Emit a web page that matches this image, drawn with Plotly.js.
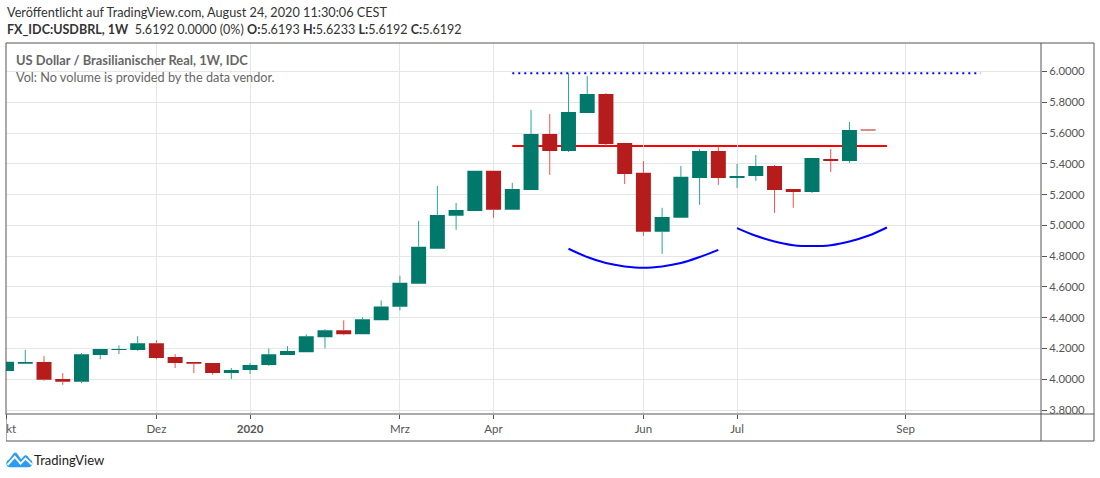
<!DOCTYPE html>
<html>
<head>
<meta charset="utf-8">
<script src="https://cdn.plot.ly/plotly-3.0.1.min.js"></script>
<style>
html,body{margin:0;padding:0;background:#fff;overflow:hidden}
#chart{position:absolute;left:0;top:0;width:1100px;height:478px}
#clip{position:absolute;left:0;top:415px;width:6px;height:26px;background:#fff}
#logo{position:absolute;left:6px;top:451px;width:27px;height:17px}
</style>
</head>
<body>
<div id="chart"></div>
<div id="clip"></div>
<svg id="logo" viewBox="0 0 27 17"><path fill="#2b9cf2" d="M0.3 12.5 C0.3 10.5 1.5 9.5 2.8 8.8 L7.6 2.6 C8.6 1.2 10 1.2 11 2.6 L15.2 8.2 L18 5 C19 3.9 20.6 4 21.6 5.2 L24 8.2 C25.5 9 26.6 10.6 26.4 12.5 C26.2 14.8 24.4 16.2 22.4 16.2 L4 16.2 C1.9 16.2 0.3 14.6 0.3 12.5 Z"/><path fill="none" stroke="#fff" stroke-width="2" d="M1.5 14 L8.8 5.8 L14.5 12.6 L19.5 7.6 L25.8 13.5"/></svg>
<script>
const dates = ["2019-10-07","2019-10-14","2019-10-21","2019-10-28","2019-11-04","2019-11-11","2019-11-18","2019-11-25","2019-12-02","2019-12-09","2019-12-16","2019-12-23","2019-12-30","2020-01-06","2020-01-13","2020-01-20","2020-01-27","2020-02-03","2020-02-10","2020-02-17","2020-02-24","2020-03-02","2020-03-09","2020-03-16","2020-03-23","2020-03-30","2020-04-06","2020-04-13","2020-04-20","2020-04-27","2020-05-04","2020-05-11","2020-05-18","2020-05-25","2020-06-01","2020-06-08","2020-06-15","2020-06-22","2020-06-29","2020-07-06","2020-07-13","2020-07-20","2020-07-27","2020-08-03","2020-08-10","2020-08-17","2020-08-24"];
const opens = [4.053,4.100,4.112,4.002,3.983,4.157,4.190,4.190,4.234,4.144,4.112,4.105,4.041,4.060,4.092,4.157,4.176,4.273,4.318,4.293,4.383,4.471,4.621,4.848,5.062,5.094,5.354,5.101,5.230,5.594,5.483,5.730,5.853,5.535,5.341,4.958,5.049,5.308,5.483,5.308,5.321,5.386,5.237,5.217,5.431,5.418,5.6233];
const closes = [4.113,4.112,3.996,3.983,4.163,4.196,4.196,4.234,4.138,4.105,4.100,4.041,4.060,4.092,4.163,4.183,4.280,4.318,4.292,4.389,4.473,4.627,4.861,5.068,5.100,5.354,5.101,5.237,5.594,5.483,5.736,5.853,5.529,5.334,4.958,5.055,5.315,5.483,5.308,5.321,5.386,5.230,5.217,5.438,5.418,5.619,5.6165];
const highs = [4.113,4.190,4.150,4.040,4.170,4.196,4.220,4.280,4.254,4.163,4.112,4.105,4.073,4.105,4.200,4.215,4.292,4.325,4.383,4.402,4.512,4.673,5.029,5.256,5.146,5.354,5.354,5.276,5.749,5.723,5.989,5.970,5.859,5.535,5.418,5.114,5.386,5.496,5.511,5.399,5.457,5.392,5.237,5.438,5.496,5.671,5.6233];
const lows = [4.053,4.100,3.990,3.963,3.974,4.130,4.163,4.185,4.130,4.073,4.040,4.030,4.002,4.034,4.086,4.157,4.176,4.200,4.286,4.293,4.383,4.447,4.621,4.848,4.971,5.094,5.049,5.101,5.230,5.328,5.477,5.730,5.516,5.269,4.932,4.815,5.049,5.133,5.263,5.243,5.289,5.081,5.114,5.210,5.347,5.405,5.6192];

const resistanceX = ["2020-04-13","2020-10-05"];
const resistanceY = [5.989,5.989];
const necklineX = ["2020-04-13","2020-08-31"];
const necklineY = [5.516,5.516];
const arc1X = ["2020-05-04","2020-05-11","2020-05-18","2020-05-25","2020-06-01","2020-06-08","2020-06-15","2020-06-22","2020-06-29"];
const arc1Y = [4.848,4.794,4.755,4.733,4.724,4.733,4.755,4.794,4.841];
const arc2X = ["2020-07-06","2020-07-13","2020-07-20","2020-07-27","2020-08-03","2020-08-10","2020-08-17","2020-08-24","2020-08-31"];
const arc2Y = [4.982,4.932,4.895,4.871,4.865,4.871,4.895,4.932,4.986];

const tickDates = ["2019-10-07","2019-12-02","2020-01-06","2020-03-02","2020-04-06","2020-06-01","2020-07-06","2020-09-07"];
const tickLabels = ["Okt","Dez","<b>2020</b>","Mrz","Apr","Jun","Jul","Sep"];
const priceTicks = [3.8,4.0,4.2,4.4,4.6,4.8,5.0,5.2,5.4,5.6,5.8,6.0];

const headerLine1 = "Veröffentlicht auf TradingView.com, August 24, 2020 11:30:06 CEST";
const headerLine2 = "<b>FX_IDC:USDBRL, 1W</b>  5.6192 0.0000 (0%) <b>O:</b>5.6193 <b>H:</b>5.6233 <b>L:</b>5.6192 <b>C:</b>5.6192";
const legendLine1 = "<b>US Dollar / Brasilianischer Real, 1W, IDC</b>";
const legendLine2 = "Vol: No volume is provided by the data vendor.";
const brand = "TradingView";

const FONT = "Lato, 'Open Sans', sans-serif";
const L=6,R=1041,T=43,B=414,W=1100,H=478;
const px = x => (x-L)/(R-L);
const py = y => (B-y)/(B-T);

// Wicks stop at the body edges: scatter lines are drawn above candlestick bodies by Plotly.
function wicks(up){
  const xs=[],ys=[];
  dates.forEach((d,i)=>{
    if((closes[i]>=opens[i])===up){
      const top=Math.max(opens[i],closes[i]), bottom=Math.min(opens[i],closes[i]);
      xs.push(d,d,null,d,d,null);
      ys.push(lows[i],bottom,null,top,highs[i],null);
    }
  });
  return {type:'scatter',mode:'lines',x:xs,y:ys,hoverinfo:'skip',showlegend:false,
    line:{color:up?'#26a69a':'#ef5350',width:1}};
}
function note(text,x,y,size,color){
  return {text,xref:'paper',yref:'paper',x:px(x),y:py(y),xanchor:'left',yanchor:'middle',showarrow:false,
    font:{family:FONT,size,color},align:'left'};
}
const traces=[
  {type:'scatter',mode:'lines',x:resistanceX,y:resistanceY,showlegend:false,hoverinfo:'skip',
   line:{color:'#0000ff',width:2,dash:'2px 4px'}},
  wicks(true),wicks(false),
  {type:'candlestick',x:dates,open:opens,high:highs,low:lows,close:closes,showlegend:false,
   whiskerwidth:0,line:{width:0},
   increasing:{line:{color:'#00796b',width:0},fillcolor:'#00796b'},
   decreasing:{line:{color:'#b71c1c',width:0},fillcolor:'#b71c1c'}},
  {type:'scatter',mode:'lines',x:arc1X,y:arc1Y,showlegend:false,hoverinfo:'skip',
   line:{color:'#0000ff',width:2,shape:'spline'}},
  {type:'scatter',mode:'lines',x:arc2X,y:arc2Y,showlegend:false,hoverinfo:'skip',
   line:{color:'#0000ff',width:2,shape:'spline'}}
];
const frame='#555555';
const layout={
  width:W,height:H,paper_bgcolor:'#fff',plot_bgcolor:'#fff',showlegend:false,
  margin:{l:L,r:W-R,t:T,b:H-B,pad:0},
  boxgap:0.2,boxgroupgap:0,
  font:{family:FONT,size:12,color:'#555'},
  xaxis:{type:'date',range:["2019-10-06 19:00","2020-10-27 14:00"],rangeslider:{visible:false},
    tickmode:'array',tickvals:tickDates,ticktext:tickLabels,ticks:'outside',ticklen:4,tickcolor:frame,
    ticklabeloverflow:'allow',
    showgrid:true,gridcolor:'#e6e6e6',gridwidth:1,zeroline:false,showline:false,
    tickangle:0,tickfont:{family:FONT,size:11.5,color:'#555'}},
  yaxis:{side:'right',range:[3.774,6.185],tickmode:'array',tickvals:priceTicks,tickformat:'.4f',
    ticks:'outside',ticklen:5,tickcolor:frame,showgrid:true,gridcolor:'#e6e6e6',gridwidth:1,
    zeroline:false,showline:false,tickfont:{family:FONT,size:11.3,color:'#555'}},
  shapes:[
    {type:'line',layer:'below',xref:'x',yref:'y',x0:necklineX[0],x1:necklineX[1],y0:necklineY[0],y1:necklineY[1],line:{color:'#ff0000',width:2}},
    {type:'rect',xref:'paper',yref:'paper',x0:px(6),x1:px(1094),y0:py(441),y1:py(43),line:{color:frame,width:1}},
    {type:'line',xref:'paper',yref:'paper',x0:px(1041),x1:px(1041),y0:py(441),y1:py(43),line:{color:frame,width:1}},
    {type:'line',xref:'paper',yref:'paper',x0:px(6),x1:px(1094),y0:py(414),y1:py(414),line:{color:frame,width:1}}
  ],
  annotations:[
    note(headerLine1,5,12,12.7,'#333'),
    note(headerLine2,5,29,12.55,'#333'),
    note(legendLine1,14,60,12.9,'#666'),
    note(legendLine2,14,77,12.7,'#666'),
    note(brand,32,460,13,'#222')
  ]
};
Plotly.newPlot('chart',traces,layout,{staticPlot:true,displayModeBar:false});
</script>
</body>
</html>
